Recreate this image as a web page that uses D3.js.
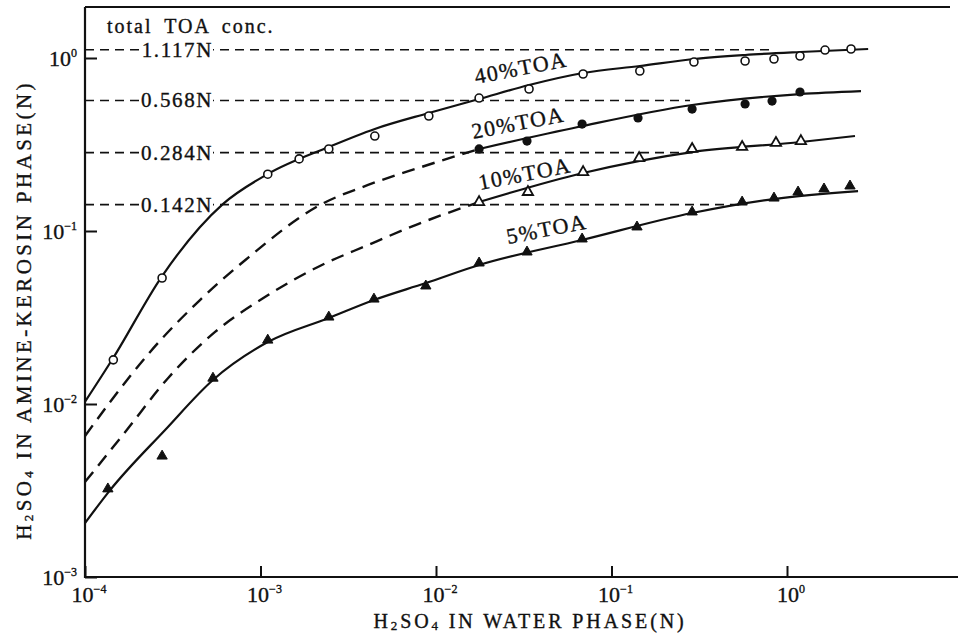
<!DOCTYPE html>
<html>
<head>
<meta charset="utf-8">
<script src="https://cdn.jsdelivr.net/npm/d3@7"></script>
<style>
body { margin: 0; background: #fff; }
svg { font-family: 'Liberation Serif', 'DejaVu Serif', serif; }
svg text { stroke: #111; stroke-width: 0.35px; }
</style>
</head>
<body>
<div id="chart"></div>
<script>
// values: [H2SO4 in water phase (N), H2SO4 in amine-kerosin phase (N)]
const toa40Points = [[1.45e-4, 0.0180], [2.75e-4, 0.0535], [1.10e-3, 0.213], [1.66e-3, 0.261], [2.45e-3, 0.298],
    [4.48e-3, 0.354], [9.1e-3, 0.462], [0.0176, 0.587], [0.0339, 0.662], [0.0689, 0.808], [0.145, 0.841],
    [0.295, 0.948], [0.577, 0.961], [0.843, 0.987], [1.186, 1.027], [1.647, 1.112], [2.316, 1.127]];
const toa20Points = [[0.0176, 0.298], [0.033, 0.331], [0.068, 0.415], [0.1416, 0.450], [0.288, 0.507],
    [0.577, 0.542], [0.822, 0.564], [1.186, 0.636]];
const toa10Points = [[0.0176, 0.147], [0.0334, 0.168], [0.0689, 0.219], [0.1437, 0.264], [0.288, 0.298],
    [0.555, 0.306], [0.865, 0.323], [1.20, 0.331]];
const toa5Points = [[1.35e-4, 0.00323], [2.75e-4, 0.0050], [5.36e-4, 0.0141], [1.10e-3, 0.0234], [2.45e-3, 0.0318],
    [4.43e-3, 0.0404], [8.75e-3, 0.0481], [0.0176, 0.0653], [0.033, 0.0756], [0.068, 0.0899], [0.1397, 0.1055],
    [0.288, 0.1288], [0.555, 0.147], [0.843, 0.155], [1.156, 0.168], [1.625, 0.175], [2.285, 0.182]];

// drawn curves
const toa40Curve = [[1e-4, 0.0103], [1.45e-4, 0.0185], [2.75e-4, 0.0549], [6.1e-4, 0.143], [1.10e-3, 0.2135],
    [2.45e-3, 0.306], [4.48e-3, 0.389], [9.1e-3, 0.481], [0.0176, 0.579], [0.0339, 0.698], [0.0689, 0.819],
    [0.145, 0.899], [0.295, 0.987], [0.577, 1.041], [1.186, 1.083], [2.90, 1.127]];
const toa20Dash = [[1e-4, 0.00653], [1.39e-4, 0.01027], [2.35e-4, 0.0200], [4.52e-4, 0.0399], [8.2e-4, 0.0680],
    [2.18e-3, 0.1413], [4.10e-3, 0.1845], [7.9e-3, 0.231], [0.0176, 0.298]];
const toa20Solid = [[0.0176, 0.298], [0.0644, 0.399], [0.288, 0.535], [1.186, 0.619], [2.64, 0.644]];
const toa10Dash = [[1e-4, 0.00354], [1.73e-4, 0.00708], [2.97e-4, 0.0141], [5.51e-4, 0.0261], [1.06e-3, 0.0415],
    [2.18e-3, 0.0628], [4.10e-3, 0.0830], [7.9e-3, 0.1097], [0.0176, 0.147]];
const toa10Solid = [[0.0176, 0.147], [0.0689, 0.2165], [0.288, 0.286], [1.20, 0.327], [2.44, 0.354]];
const toa5Curve = [[1e-4, 0.00205], [1.39e-4, 0.00318], [2.86e-4, 0.00708], [5.36e-4, 0.01377], [1.10e-3, 0.0228],
    [2.45e-3, 0.0314], [4.43e-3, 0.0399], [8.75e-3, 0.050], [0.0176, 0.0636], [0.068, 0.0887], [0.288, 0.127],
    [0.843, 0.153], [2.54, 0.170]];

// total TOA concentration levels and where their dashed lines stop
const refLevels = [1.117, 0.568, 0.284, 0.142];
const refLabels = ['1.117N', '0.568N', '0.284N', '0.142N'];
const refEnds = [0.8, 0.28, 0.29, 0.55];

const curveNames = ['40%TOA', '20%TOA', '10%TOA', '5%TOA'];
const curveLabelX = [0.0169, 0.0163, 0.0178, 0.0257];
const curveLabelY = [0.707, 0.340, 0.1726, 0.0841];

const xTicks = [1e-4, 1e-3, 1e-2, 1e-1, 1];
const xTickExp = ['−4', '−3', '−2', '−1', '0'];
const yTicks = [1e-3, 1e-2, 1e-1, 1];
const yTickExp = ['−3', '−2', '−1', '0'];

const width = 958, height = 634;
const margin = {top: 7, right: 0, bottom: 57, left: 85};
const ink = '#111';

const svg = d3.select('#chart')
    .append('svg')
    .attr('width', width)
    .attr('height', height);

const xScale = d3.scaleLog().domain([1e-4, 1]).range([margin.left, 787]);
const yScale = d3.scaleLog().domain([1e-3, 1]).range([height - margin.bottom, 58]);

const line = d3.line()
    .x(d => xScale(d[0]))
    .y(d => yScale(d[1]))
    .curve(d3.curveMonotoneX);

// frame: left, top and bottom lines
const frame = svg.append('g').attr('stroke', ink).attr('stroke-width', 2.2).attr('fill', 'none');
frame.append('line').attr('x1', margin.left).attr('x2', margin.left)
    .attr('y1', margin.top).attr('y2', height - margin.bottom + 1);
frame.append('line').attr('x1', margin.left).attr('x2', 950)
    .attr('y1', margin.top).attr('y2', margin.top);
frame.append('line').attr('x1', margin.left - 1).attr('x2', width)
    .attr('y1', height - margin.bottom).attr('y2', height - margin.bottom);

// inward ticks
svg.append('g')
    .attr('transform', 'translate(' + margin.left + ',0)')
    .call(d3.axisLeft(yScale).tickValues(yTicks).tickSize(-12).tickFormat(''))
    .call(g => g.select('.domain').remove())
    .call(g => g.selectAll('line').attr('stroke', ink).attr('stroke-width', 2));
svg.append('g')
    .attr('transform', 'translate(0,' + (height - margin.bottom) + ')')
    .call(d3.axisBottom(xScale).tickValues(xTicks).tickSize(-11).tickFormat(''))
    .call(g => g.select('.domain').remove())
    .call(g => g.selectAll('line').attr('stroke', ink).attr('stroke-width', 2));

// tick labels with superscripts
svg.selectAll('.ylab')
    .data(yTicks)
    .enter()
    .append('text')
    .attr('class', 'ylab')
    .attr('x', margin.left - 8)
    .attr('y', d => yScale(d) + 8)
    .attr('text-anchor', 'end')
    .attr('font-size', 22)
    .attr('fill', ink)
    .each(function(d, i) {
        const t = d3.select(this);
        t.append('tspan').text('10');
        t.append('tspan').attr('dy', -9).attr('font-size', 12).text(yTickExp[i]);
    });

svg.selectAll('.xlab')
    .data(xTicks)
    .enter()
    .append('text')
    .attr('class', 'xlab')
    .attr('x', d => xScale(d) + 4)
    .attr('y', 602)
    .attr('text-anchor', 'middle')
    .attr('font-size', 22)
    .attr('fill', ink)
    .each(function(d, i) {
        const t = d3.select(this);
        t.append('tspan').text('10');
        t.append('tspan').attr('dy', -9).attr('font-size', 12).text(xTickExp[i]);
    });

// axis titles
function chemTitle(sel, rest) {
    sel.append('tspan').text('H');
    sel.append('tspan').attr('font-size', 13).attr('dy', 2).text('2');
    sel.append('tspan').attr('dy', -2).text('SO');
    sel.append('tspan').attr('font-size', 13).attr('dy', 2).text('4');
    sel.append('tspan').attr('dy', -2).text(rest);
}
svg.append('text')
    .attr('x', 530)
    .attr('y', 628)
    .attr('text-anchor', 'middle')
    .attr('font-size', 20)
    .attr('letter-spacing', 2.9)
    .attr('fill', ink)
    .call(chemTitle, ' IN WATER PHASE(N)');
svg.append('text')
    .attr('transform', 'translate(31,310) rotate(-90)')
    .attr('text-anchor', 'middle')
    .attr('font-size', 21)
    .attr('letter-spacing', 3.4)
    .attr('fill', ink)
    .call(chemTitle, ' IN AMINE-KEROSIN PHASE(N)');

// total TOA conc. reference lines
svg.append('text')
    .attr('x', 107)
    .attr('y', 33)
    .attr('font-size', 20)
    .attr('letter-spacing', 2)
    .attr('word-spacing', 5)
    .attr('fill', ink)
    .text('total TOA conc.');

const refs = svg.selectAll('.ref')
    .data(refLevels)
    .enter()
    .append('g')
    .attr('class', 'ref');

refs.append('line')
    .attr('x1', margin.left)
    .attr('x2', (d, i) => xScale(refEnds[i]))
    .attr('y1', d => yScale(d))
    .attr('y2', d => yScale(d))
    .attr('stroke', ink)
    .attr('stroke-width', 1.6)
    .attr('stroke-dasharray', '9,6');

const refRects = refs.append('rect').attr('fill', '#fff');

const refTexts = refs.append('text')
    .attr('x', margin.left + 128)
    .attr('y', d => yScale(d) + 7)
    .attr('text-anchor', 'end')
    .attr('font-size', 21)
    .attr('letter-spacing', 1.6)
    .attr('fill', ink)
    .text((d, i) => refLabels[i]);

refTexts.each(function(d, i) {
    const b = this.getBBox();
    d3.select(refRects.nodes()[i])
        .attr('x', b.x - 1)
        .attr('y', b.y)
        .attr('width', b.width + 1)
        .attr('height', b.height);
});

// curves
const solidCurves = [toa40Curve, toa20Solid, toa10Solid, toa5Curve];
const dashCurves = [toa20Dash, toa10Dash];

svg.selectAll('.solid')
    .data(solidCurves)
    .enter()
    .append('path')
    .attr('class', 'solid')
    .attr('fill', 'none')
    .attr('stroke', ink)
    .attr('stroke-width', 2.2)
    .attr('d', line);

svg.selectAll('.dashed')
    .data(dashCurves)
    .enter()
    .append('path')
    .attr('class', 'dashed')
    .attr('fill', 'none')
    .attr('stroke', ink)
    .attr('stroke-width', 2.4)
    .attr('stroke-dasharray', '13,8')
    .attr('d', line);

// markers
svg.selectAll('.p40')
    .data(toa40Points)
    .enter()
    .append('circle')
    .attr('class', 'p40')
    .attr('cx', d => xScale(d[0]))
    .attr('cy', d => yScale(d[1]))
    .attr('r', 4)
    .attr('fill', '#fff')
    .attr('stroke', ink)
    .attr('stroke-width', 1.6);

svg.selectAll('.p20')
    .data(toa20Points)
    .enter()
    .append('circle')
    .attr('class', 'p20')
    .attr('cx', d => xScale(d[0]))
    .attr('cy', d => yScale(d[1]))
    .attr('r', 4.6)
    .attr('fill', ink);

const tri = d3.symbol().type(d3.symbolTriangle).size(46);

svg.selectAll('.p10')
    .data(toa10Points)
    .enter()
    .append('path')
    .attr('class', 'p10')
    .attr('d', tri)
    .attr('transform', d => 'translate(' + xScale(d[0]) + ',' + yScale(d[1]) + ')')
    .attr('fill', '#fff')
    .attr('stroke', ink)
    .attr('stroke-width', 1.8);

svg.selectAll('.p5')
    .data(toa5Points)
    .enter()
    .append('path')
    .attr('class', 'p5')
    .attr('d', tri)
    .attr('transform', d => 'translate(' + xScale(d[0]) + ',' + yScale(d[1]) + ')')
    .attr('fill', ink)
    .attr('stroke', ink)
    .attr('stroke-width', 1);

// curve labels
svg.selectAll('.curveLabel')
    .data(curveNames)
    .enter()
    .append('text')
    .attr('class', 'curveLabel')
    .attr('transform', (d, i) => 'translate(' + xScale(curveLabelX[i]) + ',' + yScale(curveLabelY[i]) + ') rotate(-11)')
    .attr('font-size', 22)
    .attr('letter-spacing', 1.5)
    .attr('fill', ink)
    .text(d => d);
</script>
</body>
</html>
